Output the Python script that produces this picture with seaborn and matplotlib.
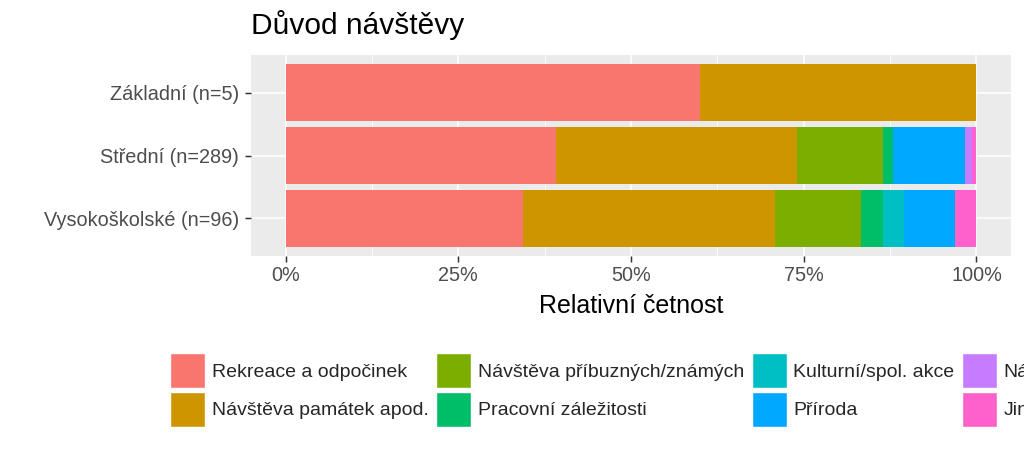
import pandas as pd
import matplotlib.pyplot as plt
import matplotlib.patches as mpatches
from matplotlib.ticker import FixedLocator
import seaborn as sns

education = ['Základní (n=5)', 'Střední (n=289)', 'Vysokoškolské (n=96)']
reasons = ['Rekreace a odpočinek', 'Návštěva památek apod.', 'Návštěva příbuzných/známých',
           'Pracovní záležitosti', 'Kulturní/spol. akce', 'Příroda', 'Nákupy', 'Jiné']

# respondent counts per reason
zakladni = [3, 2, 0, 0, 0, 0, 0, 0]
stredni = [113, 101, 36, 4, 0, 30, 3, 2]
vysokoskolske = [33, 35, 12, 3, 3, 7, 0, 3]

# ggplot default hue palette for 8 levels
colors = ['#F8766D', '#CD9600', '#7CAE00', '#00BE67', '#00BFC4', '#00A9FF', '#C77CFF', '#FF61CC']
x_ticks = [0, 0.25, 0.5, 0.75, 1.0]
x_tick_labels = ['0%', '25%', '50%', '75%', '100%']


def make_plot():
    counts = pd.DataFrame([zakladni, stredni, vysokoskolske], index=education, columns=reasons)
    share = counts.div(counts.sum(axis=1), axis=0)
    cum = share.cumsum(axis=1)
    long = cum.reset_index(names='edu').melt(id_vars='edu', var_name='reason', value_name='cum')

    sns.set_theme(style='darkgrid', rc={'axes.facecolor': '#EBEBEB', 'grid.color': 'white'})
    plt.rcParams['font.family'] = ['Liberation Sans', 'DejaVu Sans']

    fig = plt.figure(figsize=(10.24, 4.55), dpi=100)
    ax = fig.add_axes([251 / 1024, 1 - 256 / 455, 760 / 1024, 201 / 455])

    # stacked bars: draw cumulative totals from the longest to the shortest
    for reason, color in zip(reversed(reasons), reversed(colors)):
        sub = long[long['reason'] == reason]
        sns.barplot(data=sub, x='cum', y='edu', order=education, orient='h', color=color,
                    saturation=1, width=0.9, errorbar=None, linewidth=0, ax=ax)

    ax.set_xlim(-0.05, 1.05)
    ax.set_ylim(2.6, -0.6)
    ax.xaxis.set_major_locator(FixedLocator(x_ticks))
    ax.set_xticklabels(x_tick_labels)
    ax.xaxis.set_minor_locator(FixedLocator([0.125, 0.375, 0.625, 0.875]))
    ax.set_axisbelow(True)
    ax.grid(True, which='major', color='white', linewidth=1.1)
    ax.grid(True, which='minor', axis='x', color='white', linewidth=0.55)
    ax.yaxis.grid(True, which='major', color='white', linewidth=1.1)
    for s in ax.spines.values():
        s.set_visible(False)

    ax.tick_params(axis='both', which='major', bottom=True, left=True, length=4, width=1.07,
                   color='#333333', labelcolor='#4D4D4D', labelsize=14.3)
    ax.tick_params(axis='y', pad=4.5)
    ax.tick_params(axis='x', pad=3.5)
    ax.tick_params(axis='x', which='minor', length=0)
    ax.set_ylabel('')
    ax.set_xlabel('Relativní četnost', fontsize=18, color='black', labelpad=6.5)
    ax.set_title('Důvod návštěvy', loc='left', fontsize=21.5, color='black', pad=15)

    handles = [mpatches.Patch(facecolor=c, label=r) for r, c in zip(reasons, colors)]
    fig.legend(handles=handles, ncol=4, loc='upper left', bbox_to_anchor=(170 / 1024, 1 - 353 / 455),
               frameon=False, fontsize=14, handlelength=1.8, handleheight=2.4, handletextpad=0.35,
               columnspacing=0.38, labelspacing=0.18, borderpad=0, borderaxespad=0)

    fig.savefig('out.png', dpi=100)
    plt.close(fig)


if __name__ == "__main__":
    make_plot()
